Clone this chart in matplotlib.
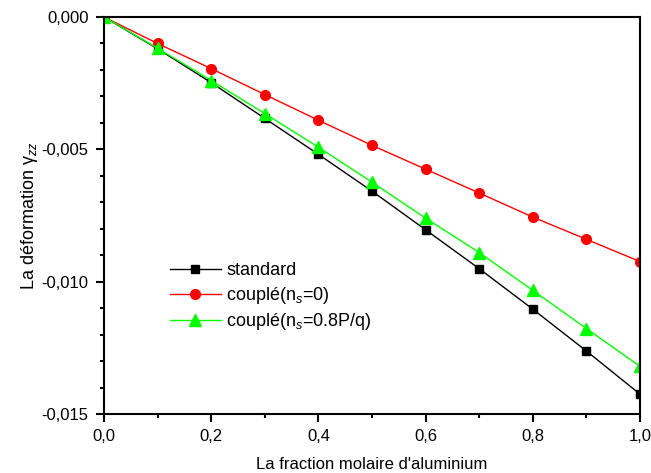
import matplotlib
matplotlib.use('Agg')
import matplotlib.pyplot as plt
from matplotlib.ticker import MultipleLocator, FuncFormatter

plt.rcParams['font.family'] = ['Liberation Sans', 'DejaVu Sans']
plt.rcParams['mathtext.fontset'] = 'custom'
plt.rcParams['mathtext.rm'] = 'Liberation Sans'
plt.rcParams['mathtext.it'] = 'Liberation Sans:italic'

# Data
x = [0.0, 0.1, 0.2, 0.3, 0.4, 0.5, 0.6, 0.7, 0.8, 0.9, 1.0]
standard = [0.0, -0.00120, -0.00248, -0.00383, -0.00519, -0.00658, -0.00804,
            -0.00951, -0.01104, -0.01262, -0.01425]
couple_ns0 = [0.0, -0.00100, -0.00195, -0.00293, -0.00390, -0.00485, -0.00575,
              -0.00665, -0.00756, -0.00840, -0.00924]
couple_ns08 = [0.0, -0.00118, -0.00240, -0.00365, -0.00492, -0.00624, -0.00760,
               -0.00890, -0.01033, -0.01177, -0.01320]

fig = plt.figure(figsize=(6.51, 4.73), dpi=100)
ax = fig.add_axes([104 / 651, 1 - 414 / 473, 536 / 651, 397 / 473])

ax.plot(x, standard, color='black', lw=1, marker='s', ms=6, label='standard')
ax.plot(x, couple_ns0, color='red', lw=1, marker='o', ms=7, label='couplé(n$_s$=0)')
ax.plot(x, couple_ns08, color='#00ff00', lw=1, marker='^', ms=8,
        label='couplé(n$_s$=0.8P/q)')

ax.set_xlim(0, 1.0)
ax.set_ylim(-0.015, 0.0)
ax.xaxis.set_major_locator(MultipleLocator(0.2))
ax.xaxis.set_minor_locator(MultipleLocator(0.1))
ax.yaxis.set_major_locator(MultipleLocator(0.005))
ax.yaxis.set_minor_locator(MultipleLocator(0.001))
ax.xaxis.set_major_formatter(FuncFormatter(lambda v, p: f'{v:.1f}'.replace('.', ',')))
ax.yaxis.set_major_formatter(FuncFormatter(lambda v, p: f'{v:.3f}'.replace('.', ',')))

ax.tick_params(which='major', direction='out', length=6, width=1.5, labelsize=12, pad=5)
ax.tick_params(which='minor', direction='out', length=3, width=1.5)
for s in ax.spines.values():
    s.set_linewidth(1.5)

ax.set_xlabel("La fraction molaire d'aluminium", fontsize=12, labelpad=9)
ax.set_ylabel(r'La déformation $\mathrm{\gamma}_{zz}$', fontsize=13, labelpad=1)

ax.legend(loc='upper left', bbox_to_anchor=(0.11, 0.40), frameon=False, fontsize=13,
          handlelength=2.8, handletextpad=0.3, borderaxespad=0, labelspacing=0.3)

fig.savefig('out.png', dpi=100)
